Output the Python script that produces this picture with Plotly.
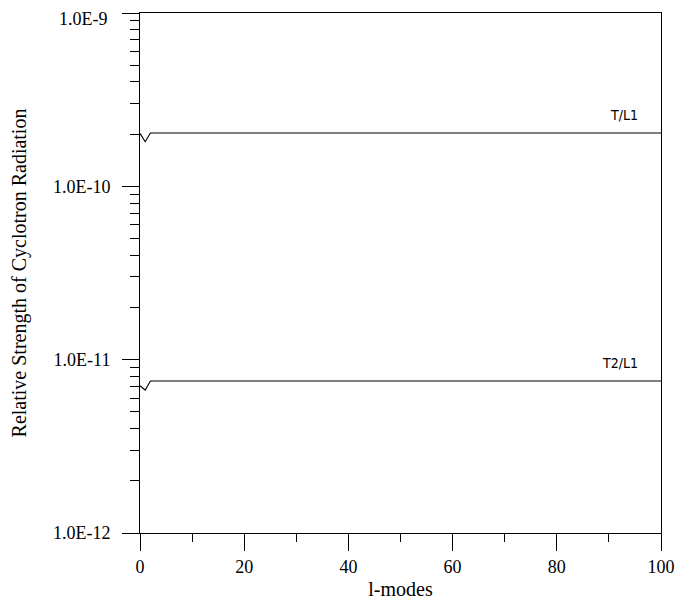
import math
import plotly.graph_objects as go

l_modes = [0, 1, 2, 3, 4, 5, 10, 20, 30, 40, 50, 60, 70, 80, 90, 100]
t_l1 = [2.02e-10, 1.81e-10, 2.03e-10, 2.03e-10, 2.03e-10, 2.03e-10, 2.03e-10, 2.03e-10,
        2.03e-10, 2.03e-10, 2.03e-10, 2.03e-10, 2.03e-10, 2.03e-10, 2.03e-10, 2.03e-10]
t2_l1 = [7.07e-12, 6.68e-12, 7.53e-12, 7.53e-12, 7.53e-12, 7.53e-12, 7.53e-12, 7.53e-12,
         7.53e-12, 7.53e-12, 7.53e-12, 7.53e-12, 7.53e-12, 7.53e-12, 7.53e-12, 7.53e-12]
series_labels = ["T/L1", "T2/L1"]

y_major = [1e-12, 1e-11, 1e-10, 1e-9]
y_major_text = ["1.0E-12", "1.0E-11", "1.0E-10", "1.0E-9"]
y_minor = [m * d for d in [1e-12, 1e-11, 1e-10] for m in range(2, 10)]
x_major = [0, 20, 40, 60, 80, 100]
x_minor = [10, 30, 50, 70, 90]

serif = "Liberation Serif, Times New Roman, serif"
sans = "DejaVu Sans Condensed, DejaVu Sans, sans-serif"

fig = go.Figure()
for ys, lab in zip([t_l1, t2_l1], series_labels):
    fig.add_trace(go.Scatter(x=l_modes, y=ys, mode="lines",
                             line=dict(color="black", width=1.1), showlegend=False))
    fig.add_annotation(x=95.9, y=math.log10(ys[-1]), text=lab, showarrow=False,
                       xanchor="right", yanchor="bottom", yshift=8,
                       font=dict(family=sans, size=14, color="black"))

# top tick label drawn as an annotation nudged down so it stays inside the page
shown_text = y_major_text[:-1] + [""]
fig.add_annotation(xref="paper", yref="paper", x=0, y=1, text=y_major_text[-1],
                   showarrow=False, xanchor="right", yanchor="top",
                   xshift=-31, yshift=5, borderpad=0,
                   font=dict(family=serif, size=18, color="black"))

fig.update_layout(
    width=682, height=595,
    margin=dict(l=132, r=29, t=5, b=70),
    paper_bgcolor="white", plot_bgcolor="white",
    font=dict(family=serif, size=18, color="black"),
    xaxis=dict(
        range=[0, 100], tickmode="array", tickvals=x_major, automargin=False,
        ticks="outside", ticklen=17, tickwidth=1, tickcolor="black",
        showline=True, linecolor="black", linewidth=1, mirror=True,
        showgrid=False, zeroline=False, ticklabeloverflow="allow",
        minor=dict(tickmode="array", tickvals=x_minor, ticks="outside",
                   ticklen=8, tickcolor="black", tickwidth=1, showgrid=False),
        title=dict(text="l-modes", standoff=6, font=dict(family=serif, size=20)),
        tickfont=dict(family=serif, size=18),
    ),
    yaxis=dict(
        type="log", range=[-12, -9], tickmode="array", automargin=False,
        tickvals=y_major, ticktext=shown_text, ticklabelstandoff=8,
        ticks="outside", ticklen=17, tickwidth=1, tickcolor="black",
        showline=True, linecolor="black", linewidth=1, mirror=True,
        showgrid=False, zeroline=False, ticklabeloverflow="allow",
        minor=dict(tickmode="array", tickvals=y_minor, ticks="outside",
                   ticklen=9, tickcolor="black", tickwidth=1, showgrid=False),
        title=dict(text="Relative Strength of Cyclotron Radiation", standoff=30,
                   font=dict(family=serif, size=20)),
        tickfont=dict(family=serif, size=18),
    ),
)

fig.write_html("out.html")
